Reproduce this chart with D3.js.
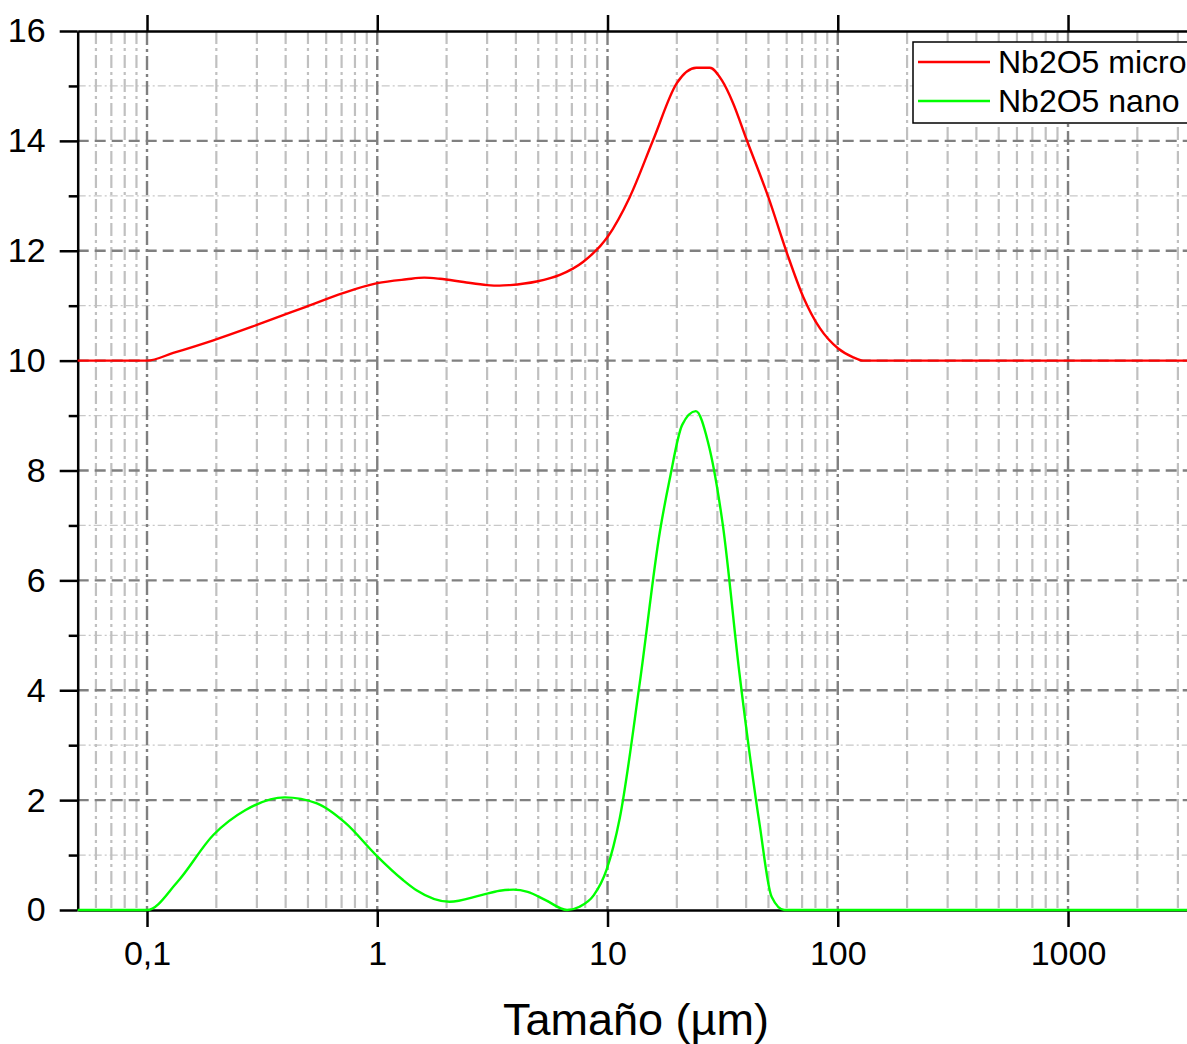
<!DOCTYPE html>
<html>
<head>
<meta charset="utf-8">
<script src="https://cdn.jsdelivr.net/npm/d3@7"></script>
<style>
  body { margin: 0; background: #fff; }
  svg { display: block; font-family: Arial, "Liberation Sans", sans-serif; }
</style>
</head>
<body>
<div id="chart"></div>
<script>
// Nb2O5 micro (µm, %)
const microX = [0.05, 0.1, 0.13, 0.194, 0.3, 0.49, 0.71, 1, 1.34, 1.6, 1.87, 2.37, 3.0, 3.4, 3.77, 4.92, 6.21, 7.85,
  10, 12.5, 15.8, 20, 24.3, 27.8, 31.4, 35, 40.2, 49.9, 59.9, 70.8, 83.6, 100.4, 116.7, 128.9, 3500];
const microY = [10, 10, 10.14, 10.37, 10.65, 10.98, 11.23, 11.41, 11.48, 11.51, 11.49, 11.43, 11.375, 11.365, 11.375, 11.44, 11.56, 11.8,
  12.25, 12.98, 14.02, 15.05, 15.33, 15.33, 15.1, 14.7, 14.02, 12.98, 11.98, 11.16, 10.59, 10.22, 10.06, 10, 10];

// Nb2O5 nano
const nanoX = [0.05, 0.1, 0.136, 0.194, 0.268, 0.397, 0.547, 0.729, 0.987, 1.29, 1.48, 2.06, 2.83, 3.4, 3.9, 4.5, 5.38,
  6.67, 7.56, 8.72, 9.9, 11.3, 13.8, 16.9, 18.6, 21.1, 24.2, 27.3, 31.7, 37.4, 45.8, 51.6, 58.6, 3500];
const nanoY = [0, 0, 0.52, 1.365, 1.82, 2.05, 1.94, 1.58, 1.0, 0.55, 0.36, 0.15, 0.27, 0.35, 0.37, 0.33, 0.18,
  0, 0.06, 0.27, 0.73, 1.67, 4.13, 6.9, 7.83, 8.83, 9.08, 8.52, 7.0, 4.31, 1.55, 0.24, 0, 0];

const xMajor = [0.1, 1, 10, 100, 1000];
const xMinor = [0.06, 0.07, 0.08, 0.09, 0.2, 0.3, 0.4, 0.5, 0.6, 0.7, 0.8, 0.9, 2, 3, 4, 5, 6, 7, 8, 9,
  20, 30, 40, 50, 60, 70, 80, 90, 200, 300, 400, 500, 600, 700, 800, 900, 2000, 3000];
const yMajor = [0, 2, 4, 6, 8, 10, 12, 14, 16];
const yMinor = [1, 3, 5, 7, 9, 11, 13, 15];
const seriesNames = ['Nb2O5 micro', 'Nb2O5 nano'];
const seriesColors = ['#ff0000', '#00ff00'];

const width = 1187, height = 1044;
const plotLeft = 77.7, plotTop = 31, plotBottom = 910;

const x = d3.scaleLog().domain([0.05, 3500]).range([plotLeft, 1193.3]);
const y = d3.scaleLinear().domain([0, 16]).range([plotBottom, plotTop]);

const svg = d3.select('#chart').append('svg')
  .attr('width', width)
  .attr('height', height);

// grid
const grid = svg.append('g');
grid.selectAll('line.hminor').data(yMinor).join('line')
  .attr('x1', plotLeft).attr('x2', width)
  .attr('y1', d => y(d)).attr('y2', d => y(d))
  .attr('stroke', '#c8c8c8').attr('stroke-width', 1.3)
  .attr('stroke-dasharray', '8,3,2,3');
grid.selectAll('line.vminor').data(xMinor).join('line')
  .attr('x1', d => x(d)).attr('x2', d => x(d))
  .attr('y1', plotTop).attr('y2', plotBottom)
  .attr('stroke', '#c0c0c0').attr('stroke-width', 2.2)
  .attr('stroke-dasharray', '13,4,3,4');
grid.selectAll('line.hmajor').data(yMajor.slice(1, -1)).join('line')
  .attr('x1', plotLeft).attr('x2', width)
  .attr('y1', d => y(d)).attr('y2', d => y(d))
  .attr('stroke', '#808080').attr('stroke-width', 2.4)
  .attr('stroke-dasharray', '11,6');
grid.selectAll('line.vmajor').data(xMajor).join('line')
  .attr('x1', d => x(d)).attr('x2', d => x(d))
  .attr('y1', plotTop).attr('y2', plotBottom)
  .attr('stroke', '#808080').attr('stroke-width', 2.4)
  .attr('stroke-dasharray', '14,4,3,4');

// axes
const axisStyle = g => {
  g.selectAll('path.domain').attr('stroke', '#000').attr('stroke-width', 2.5);
  g.selectAll('.tick line').attr('stroke', '#000').attr('stroke-width', 2.5);
  g.selectAll('.tick text').attr('fill', '#000').attr('font-size', 34)
    .attr('font-family', 'Arial, "Liberation Sans", sans-serif');
};

svg.append('g')
  .attr('transform', `translate(${plotLeft},0)`)
  .call(d3.axisLeft(y).tickValues(yMinor).tickSize(9).tickSizeOuter(0).tickFormat(''))
  .call(axisStyle);

svg.append('g')
  .attr('transform', `translate(${plotLeft},0)`)
  .call(d3.axisLeft(y).tickValues(yMajor).tickSize(18).tickSizeOuter(0).tickPadding(14)
    .tickFormat(d3.format('d')))
  .call(axisStyle)
  .call(g => g.select('path.domain').remove());

svg.append('g')
  .attr('transform', `translate(0,${plotBottom})`)
  .call(d3.axisBottom(x).tickValues(xMajor).tickSize(17).tickSizeOuter(0).tickPadding(14)
    .tickFormat(d => d < 1 ? String(d).replace('.', ',') : String(d)))
  .call(axisStyle);

svg.append('g')
  .attr('transform', `translate(0,${plotTop})`)
  .call(d3.axisTop(x).tickValues(xMajor).tickSize(16).tickSizeOuter(0).tickFormat(''))
  .call(axisStyle);

// curves (drawn over the axes, as in the original)
const line = d3.line()
  .x(d => x(d[0]))
  .y(d => y(d[1]))
  .curve(d3.curveMonotoneX);

svg.append('path')
  .datum(microX.map((v, i) => [v, microY[i]]))
  .attr('fill', 'none')
  .attr('stroke', seriesColors[0])
  .attr('stroke-width', 2.4)
  .attr('d', line);

svg.append('path')
  .datum(nanoX.map((v, i) => [v, nanoY[i]]))
  .attr('fill', 'none')
  .attr('stroke', seriesColors[1])
  .attr('stroke-width', 2.4)
  .attr('d', line);

// legend
const legend = svg.append('g').attr('transform', 'translate(913,42)');
legend.append('rect')
  .attr('width', 300).attr('height', 81)
  .attr('fill', '#fff').attr('stroke', '#000').attr('stroke-width', 1.5);
seriesNames.forEach((name, i) => {
  const ly = 20 + i * 39;
  legend.append('line')
    .attr('x1', 5).attr('x2', 77).attr('y1', ly).attr('y2', ly)
    .attr('stroke', seriesColors[i]).attr('stroke-width', 2.4);
  legend.append('text')
    .attr('x', 85).attr('y', ly).attr('dy', '0.35em')
    .attr('font-size', 32).attr('fill', '#000')
    .text(name);
});

// axis title
svg.append('text')
  .attr('x', 636).attr('y', 1035)
  .attr('text-anchor', 'middle')
  .attr('font-size', 45).attr('fill', '#000')
  .text('Tamaño (µm)');
</script>
</body>
</html>
